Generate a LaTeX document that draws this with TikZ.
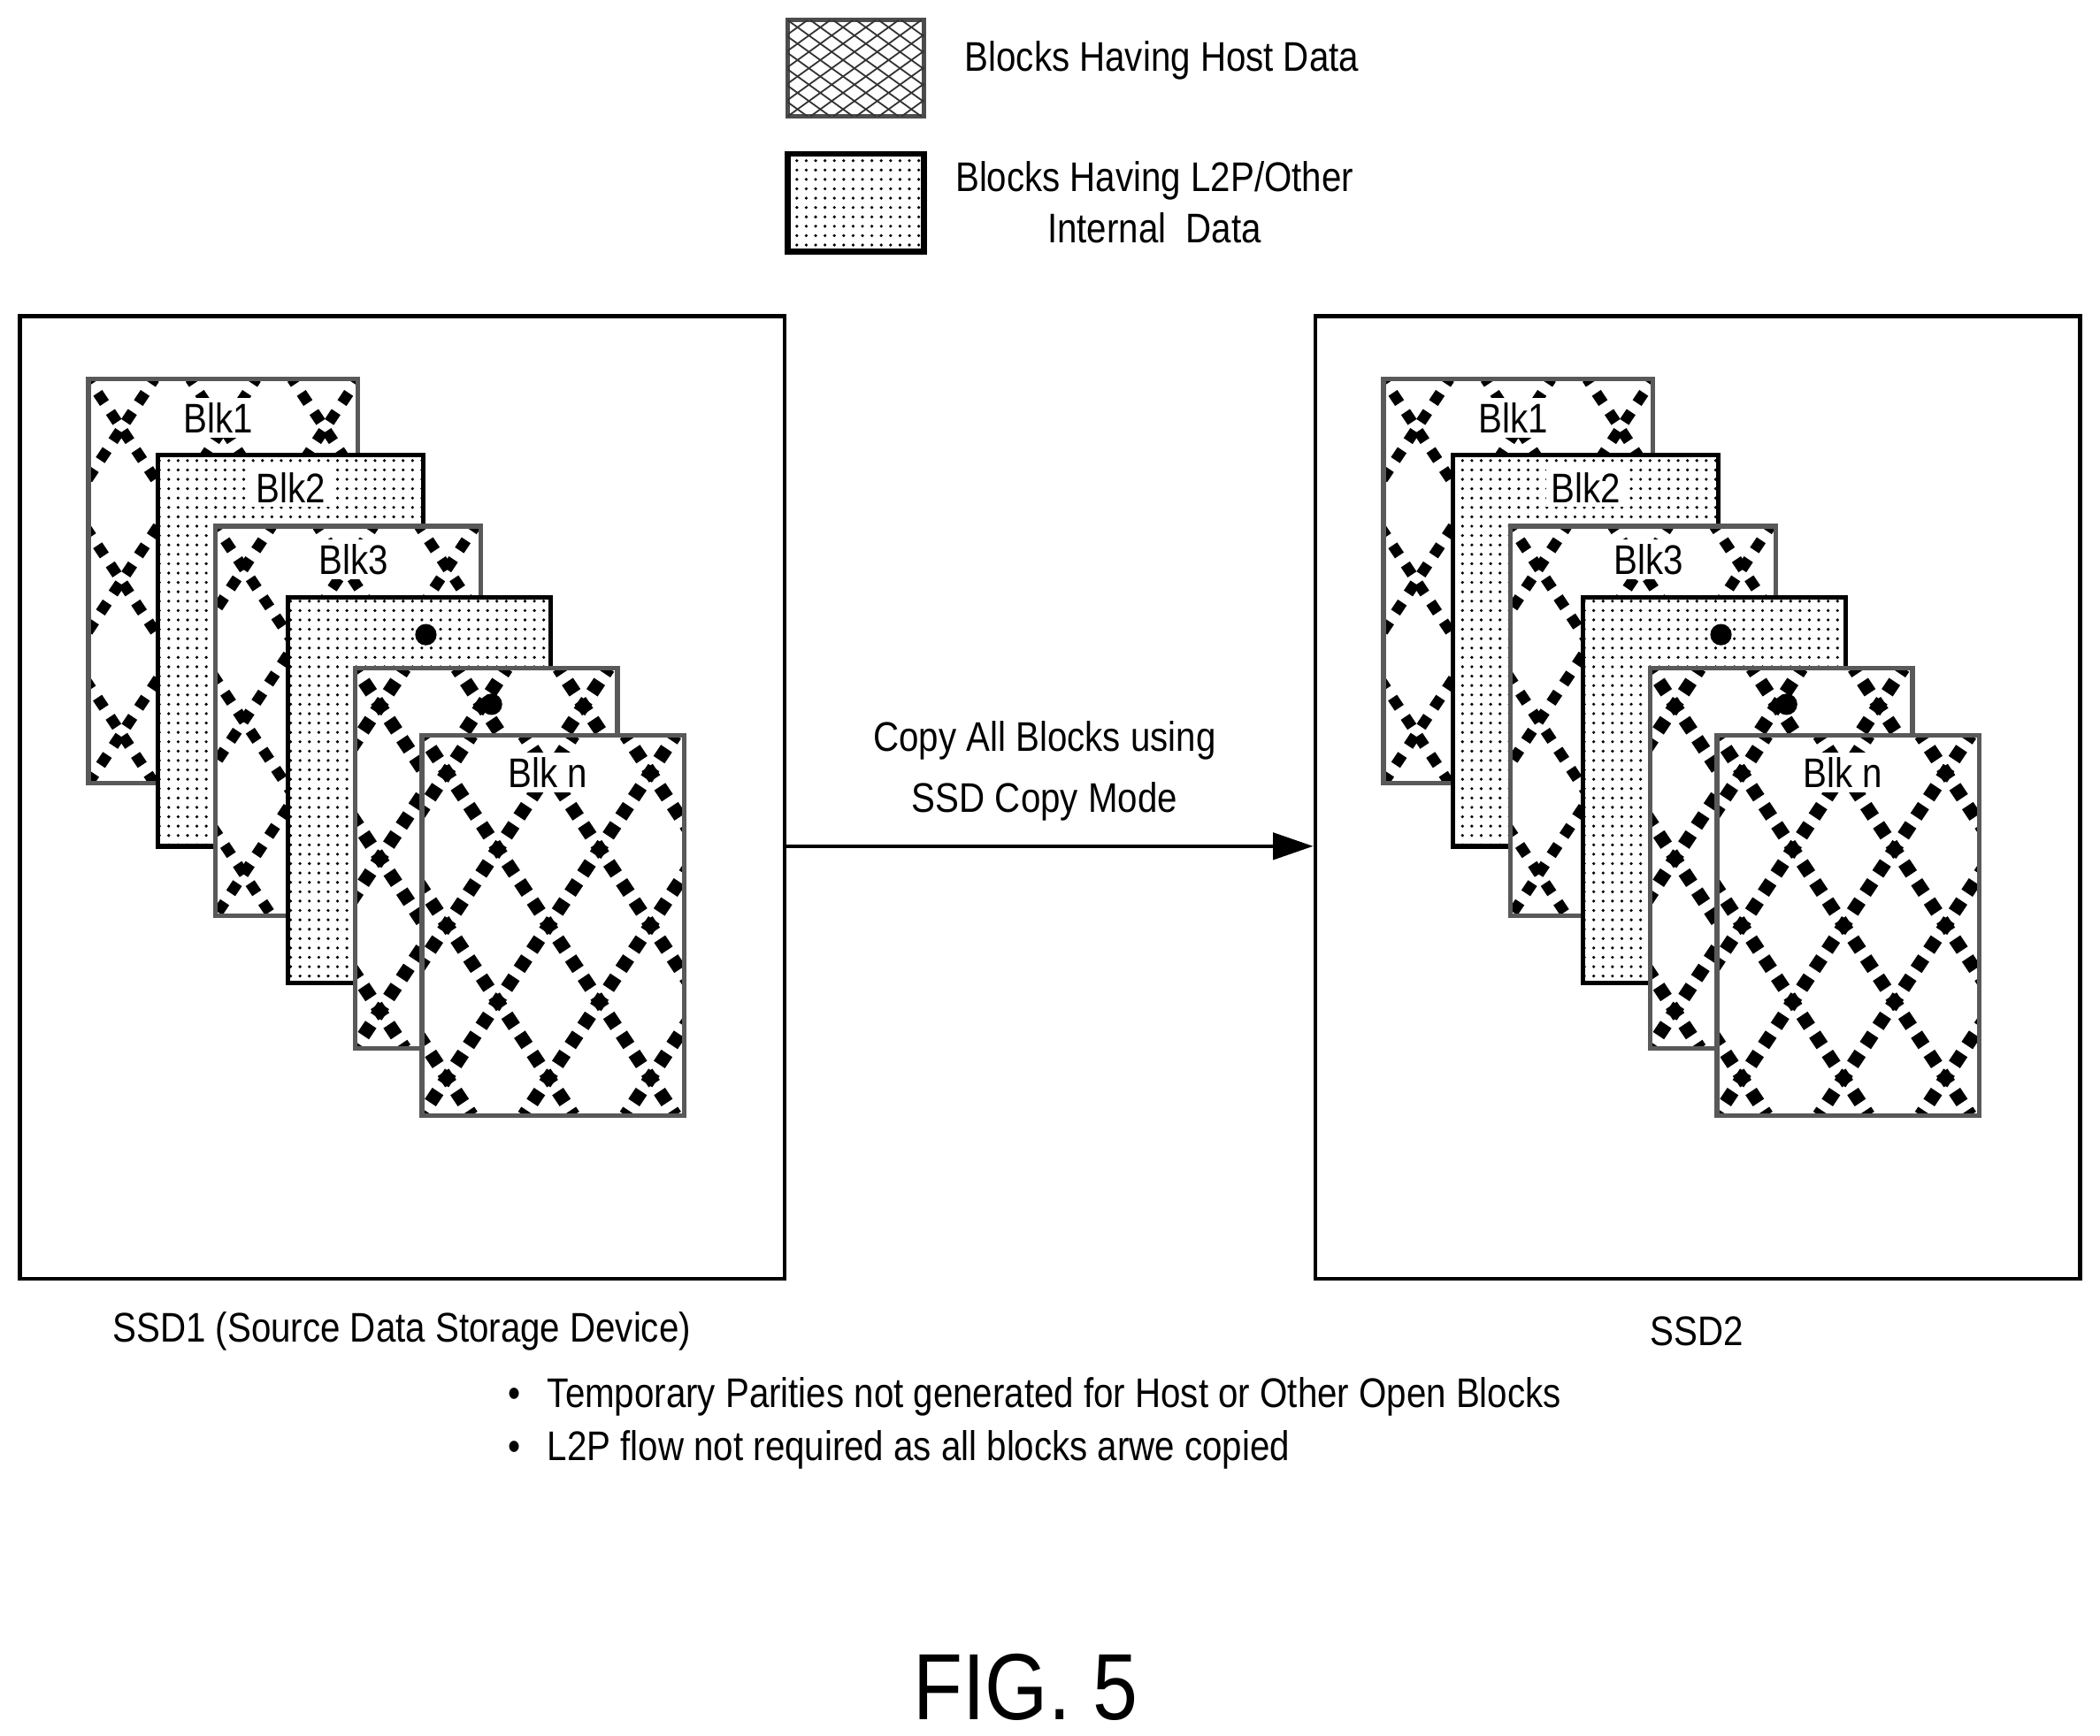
\documentclass[tikz,border=0pt]{standalone}
\usepackage{fontspec}
\setmainfont{Liberation Sans}[FakeStretch=0.86]
\usetikzlibrary{patterns.meta,arrows.meta}
\begin{document}
\begin{tikzpicture}[x=0.1mm,y=-0.1mm,
  blk/.style={draw=black!65,line width=0.35mm,fill=white},
  lbl/.style={font=\fontsize{8.8pt}{10pt}\selectfont,fill=white,inner sep=1pt},
  txt/.style={font=\fontsize{8.8pt}{11pt}\selectfont,align=center},
  dotfill/.style={pattern={Dots[distance=0.7mm,radius=0.12mm]}},
  dm/.style={line width=0.8mm,dash pattern=on 0.9mm off 0.81mm,dash phase=0.45mm},
  dmb/.style={line width=1.0mm,dash pattern=on 1.0mm off 0.71mm,dash phase=0.5mm}]
\useasboundingbox (0,0) rectangle (1568,1296);
\newcommand\diam[5]{%
  \begin{scope}
  \clip (#1,#2) rectangle (#3,#4);
  \pgfmathsetmacro\hh{(#4-#2)/1.5}
  \foreach \k in {-8,...,8}{
    \pgfmathsetmacro\cc{#1+\k*76}
    \draw[#5] (\cc,#2) -- ++(\hh,#4-#2);
    \draw[#5] (\cc+\hh+76,#2) -- ++(-\hh,#4-#2);
  }
  \end{scope}}
\newcommand\dotblk[4]{\filldraw[blk] (#1,#2) rectangle (#3,#4); \fill[dotfill] (#1,#2) rectangle (#3,#4);\draw[black,line width=0.35mm] (#1,#2) rectangle (#3,#4);}
% legend
\draw[black!70,line width=0.35mm] (588,15) rectangle (690,87);
\begin{scope}\clip (588,15) rectangle (690,87);
\foreach \k in {-6,...,8}{\draw[black!80,line width=0.12mm] (588+\k*17,15) -- ++(100,72); \draw[black!80,line width=0.12mm] (588+\k*17,87) -- ++(100,-72);}
\end{scope}
\node[txt,anchor=west] (l1) at (708,45) {Blocks Having Host Data};
\fill[dotfill] (588,115) rectangle (690,188);
\draw[line width=0.45mm] (588,115) rectangle (690,188);
\node[txt] (l2) at (862,151) {Blocks Having L2P/Other\\Internal\ \ Data};
% SSD boxes
\node[draw,line width=0.3mm,minimum width=57.1mm,minimum height=71.9mm,inner sep=0] (ssd1) at (300.5,595.5) {};
\node[draw,line width=0.3mm,minimum width=57.1mm,minimum height=71.9mm,inner sep=0] (ssd2) at (1267.5,595.5) {};
\foreach \o/\s in {0/a,967/b}{
  \begin{scope}[xshift=\o*0.1mm]
  \fill[white] (66,283) rectangle (267,585); \diam{66}{283}{267}{585}{dm}\draw[black!65,line width=0.35mm] (66,283) rectangle (267,585);
  \node[lbl] (b1\s) at (163,312) {Blk1};
  \dotblk{118}{340}{316}{632}
  \node[lbl] (b2\s) at (217,364) {Blk2};
  \fill[white] (161,393) rectangle (359,684); \diam{161}{393}{359}{684}{dm}\draw[black!65,line width=0.35mm] (161,393) rectangle (359,684);
  \node[lbl] (b3\s) at (264,418) {Blk3};
  \dotblk{215}{446}{411}{734}
  \fill (318,474) circle (0.8mm);
  \fill[white] (265,499) rectangle (461,783); \diam{265}{499}{461}{783}{dmb}\draw[black!65,line width=0.35mm] (265,499) rectangle (461,783);
  \fill (367,526) circle (0.8mm);
  \fill[white] (315,549) rectangle (511,833); \diam{315}{549}{511}{833}{dmb}\draw[black!65,line width=0.35mm] (315,549) rectangle (511,833);
  \node[lbl] (bn\s) at (409,577) {Blk n};
  \end{scope}}
% arrow
\draw[line width=0.25mm,-{Triangle[length=3mm,width=2mm]}] (ssd1.east |- 0,632) -- (ssd2.west |- 0,632);
\node[txt] (cp) at (780,576) {Copy All Blocks using\\[2pt]SSD Copy Mode};
\node[txt] (s1) at (300,994) {SSD1 (Source Data Storage Device)};
\node[txt] (s2) at (1267,994) {SSD2};
\node[txt,anchor=west] (n1) at (367,1043) {\textbullet\hspace{2mm}Temporary Parities not generated for Host or Other Open Blocks};
\node[txt,anchor=west] (n2) at (367,1083) {\textbullet\hspace{2mm}L2P flow not required as all blocks arwe copied};
\node[font=\fontsize{20pt}{24pt}\selectfont] (fig) at (766,1260) {FIG. 5};
\end{tikzpicture}
\end{document}
